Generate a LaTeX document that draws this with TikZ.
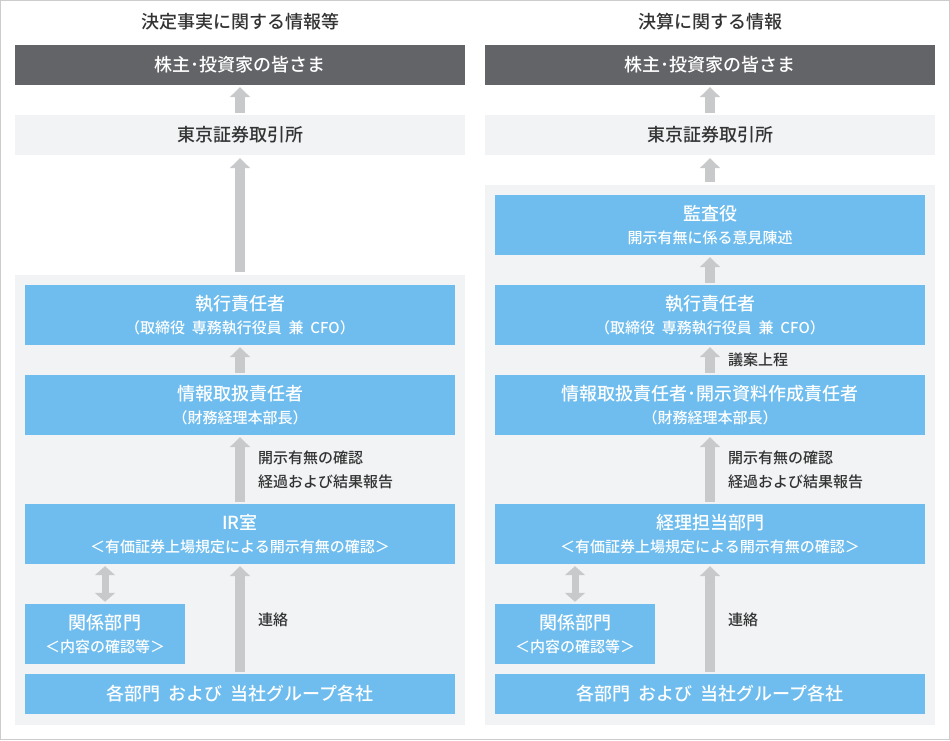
\documentclass[tikz,border=0pt]{standalone}
\usepackage{fontspec}
\setmainfont{Noto Sans CJK JP}[BoldFont={Noto Sans CJK JP Medium}, WordSpace=2]
\usetikzlibrary{arrows.meta}
\definecolor{barGray}{HTML}{636468}
\definecolor{paleGray}{HTML}{F2F3F5}
\definecolor{boxBlue}{HTML}{6EBDEE}
\definecolor{arrowGray}{HTML}{C8C9CB}
\definecolor{textGray}{HTML}{333333}
\definecolor{frameGray}{HTML}{CCCCCC}
\def\twolines#1#2{{\fontsize{18}{18}\selectfont #1}\\{\fontsize{15}{15}\selectfont #2}}
\tikzset{
	bluebox/.style={fill=boxBlue, text=white, inner sep=0pt, minimum width=430pt, minimum height=60pt, align=center, font=\bfseries\fontsize{15}{23}\selectfont},
	flatbox/.style={fill=paleGray, text=textGray, inner sep=0pt, minimum width=450pt, minimum height=40pt, font=\bfseries\fontsize{18}{18}\selectfont},
	barbox/.style={fill=barGray, text=white, inner sep=0pt, minimum width=450pt, minimum height=40pt, font=\bfseries\fontsize{18}{18}\selectfont},
	panelbox/.style={fill=paleGray, inner sep=0pt, minimum width=450pt},
	notetext/.style={text=textGray, anchor=west, inner sep=0pt, align=left, font=\bfseries\fontsize{15}{24}\selectfont},
	headtext/.style={text=textGray, inner sep=0pt, font=\bfseries\fontsize{18}{18}\selectfont},
	uparrow/.style={arrowGray, line width=10pt, -{Triangle[width=20pt,length=10pt]}, shorten <=2pt, shorten >=2pt},
	dblarrow/.style={arrowGray, line width=7pt, {Triangle[width=20pt,length=9pt]}-{Triangle[width=20pt,length=9pt]}, shorten <=2pt, shorten >=2pt}
}

\begin{document}
\begin{tikzpicture}[x=1pt, y=-1pt]
	\useasboundingbox (0, 0) rectangle (950, 740);
	\draw[frameGray] (0.5, 0.5) rectangle (949.5, 739.5);

	\node[headtext] (ltitle) at (240, 22) {決定事実に関する情報等};
	\node[barbox] (lbar) at (240, 65) {株主･投資家の皆さま};
	\node[flatbox] (ltse) at (240, 135) {東京証券取引所};
	\node[panelbox, minimum height=450pt] (lpanel) at (240, 500) {};
	\node[bluebox] (lexec) at (240, 315) {\twolines{執行責任者}{（取締役 専務執行役員 兼 CFO）}};
	\node[bluebox] (linfo) at (240, 405) {\twolines{情報取扱責任者}{（財務経理本部長）}};
	\node[bluebox] (lir) at (240, 534) {\twolines{IR室}{＜有価証券上場規定による開示有無の確認＞}};
	\node[bluebox, minimum width=160pt] (lrel) at (105, 634) {\twolines{関係部門}{＜内容の確認等＞}};
	\node[bluebox, minimum height=40pt, font=\bfseries\fontsize{18}{18}\selectfont] (lall) at (240, 694) {各部門 および 当社グループ各社};
	\node[notetext] (lcheck) at (258, 470) {開示有無の確認\\経過および結果報告};
	\node[notetext] (lcontact) at (258, 620) {連絡};

	\draw[uparrow] (ltse.north) -- (lbar.south);
	\draw[uparrow, shorten <=3pt, shorten >=3pt] (lpanel.north) -- (ltse.south);
	\draw[uparrow] (linfo.north) -- (lexec.south);
	\draw[uparrow] (lir.north) -- (linfo.south);
	\draw[uparrow] (lall.north) -- (lir.south);
	\draw[dblarrow] (lrel.north) -- (lrel.north |- lir.south);

	\node[headtext] (rtitle) at (710, 22) {決算に関する情報};
	\node[barbox] (rbar) at (710, 65) {株主･投資家の皆さま};
	\node[flatbox] (rtse) at (710, 135) {東京証券取引所};
	\node[panelbox, minimum height=540pt] (rpanel) at (710, 455) {};
	\node[bluebox] (raudit) at (710, 225) {\twolines{監査役}{開示有無に係る意見陳述}};
	\node[bluebox] (rexec) at (710, 315) {\twolines{執行責任者}{（取締役 専務執行役員 兼 CFO）}};
	\node[bluebox] (rinfo) at (710, 405) {\twolines{情報取扱責任者･開示資料作成責任者}{（財務経理本部長）}};
	\node[bluebox] (racct) at (710, 534) {\twolines{経理担当部門}{＜有価証券上場規定による開示有無の確認＞}};
	\node[bluebox, minimum width=160pt] (rrel) at (575, 634) {\twolines{関係部門}{＜内容の確認等＞}};
	\node[bluebox, minimum height=40pt, font=\bfseries\fontsize{18}{18}\selectfont] (rall) at (710, 694) {各部門 および 当社グループ各社};
	\node[notetext] (rpropose) at (728, 360) {議案上程};
	\node[notetext] (rcheck) at (728, 470) {開示有無の確認\\経過および結果報告};
	\node[notetext] (rcontact) at (728, 620) {連絡};

	\draw[uparrow] (rtse.north) -- (rbar.south);
	\draw[uparrow, shorten <=3pt, shorten >=3pt] (rpanel.north) -- (rtse.south);
	\draw[uparrow] (rexec.north) -- (raudit.south);
	\draw[uparrow] (rinfo.north) -- (rexec.south);
	\draw[uparrow] (racct.north) -- (rinfo.south);
	\draw[uparrow] (rall.north) -- (racct.south);
	\draw[dblarrow] (rrel.north) -- (rrel.north |- racct.south);
\end{tikzpicture}
\end{document}
